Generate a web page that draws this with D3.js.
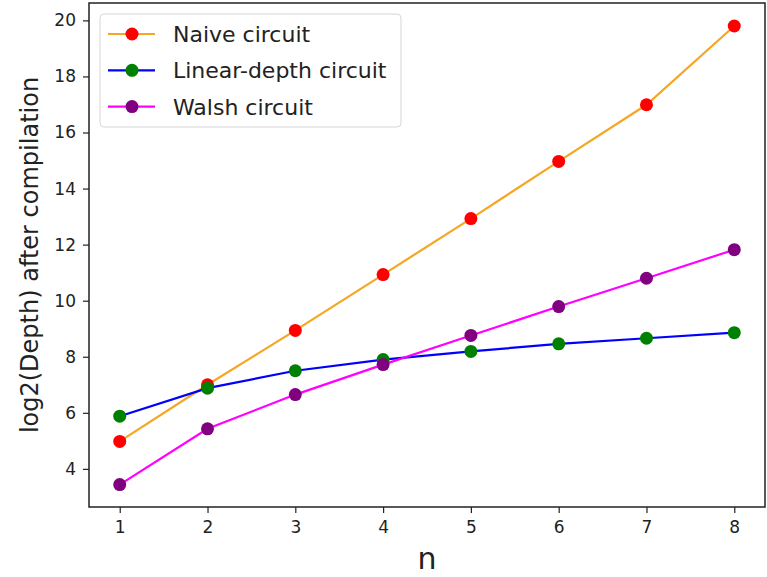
<!DOCTYPE html>
<html>
<head>
<meta charset="utf-8">
<script src="https://cdn.jsdelivr.net/npm/d3@7"></script>
<style>
  html, body { margin: 0; padding: 0; background: #fff; }
  svg { display: block; font-family: "DejaVu Sans", sans-serif; }
</style>
</head>
<body>
<svg id="chart" width="767" height="577"></svg>
<script>
// n values on the x axis
var nValues = [1, 2, 3, 4, 5, 6, 7, 8];

// log2(depth) after compilation
var naive = [4.98, 7.0, 8.94, 10.93, 12.93, 14.97, 16.99, 19.8];
var linearDepth = [5.88, 6.88, 7.5, 7.9, 8.19, 8.46, 8.66, 8.86];
var walsh = [3.44, 5.43, 6.65, 7.72, 8.76, 9.79, 10.8, 11.82];

var xTicks = [1, 2, 3, 4, 5, 6, 7, 8];
var yTicks = [4, 6, 8, 10, 12, 14, 16, 18, 20];

var seriesNames = ['Naive circuit', 'Linear-depth circuit', 'Walsh circuit'];
var lineColors = ['#f5a623', '#0000ff', '#ff00ff'];
var markerColors = ['#ff0000', '#008000', '#800080'];

var series = [naive, linearDepth, walsh].map(function(values, i) {
  return {
    name: seriesNames[i],
    line: lineColors[i],
    marker: markerColors[i],
    points: values.map(function(v, j) { return {x: nValues[j], y: v}; })
  };
});

var svg = d3.select('#chart');
// plot box (note: "top" is taken by window.top, so use a box object)
var box = {left: 89, right: 765, top: 3, bottom: 507};

var x = d3.scaleLinear().domain([0.65, 8.35]).range([box.left, box.right]);
var y = d3.scaleLinear().domain([2.64, 20.62]).range([box.bottom, box.top]);

// axes
var xAxis = svg.append('g')
  .attr('transform', 'translate(0,' + box.bottom + ')')
  .call(d3.axisBottom(x).tickValues(xTicks).tickFormat(d3.format('d')).tickSize(6).tickPadding(8));
var yAxis = svg.append('g')
  .attr('transform', 'translate(' + box.left + ',0)')
  .call(d3.axisLeft(y).tickValues(yTicks).tickFormat(d3.format('d')).tickSize(6).tickPadding(7));

[xAxis, yAxis].forEach(function(g) {
  g.select('.domain').remove();
  g.selectAll('.tick line').attr('stroke', '#222').attr('stroke-width', 1.2);
  g.selectAll('.tick text')
    .attr('fill', '#222')
    .style('font-size', '17px')
    .style('font-family', '"DejaVu Sans", sans-serif');
});

// frame
svg.append('rect')
  .attr('x', box.left).attr('y', box.top)
  .attr('width', box.right - box.left).attr('height', box.bottom - box.top)
  .attr('fill', 'none')
  .attr('stroke', '#222')
  .attr('stroke-width', 1.5);

// lines and markers
var line = d3.line()
  .x(function(d) { return x(d.x); })
  .y(function(d) { return y(d.y); });

series.forEach(function(s) {
  var g = svg.append('g');
  g.append('path')
    .datum(s.points)
    .attr('d', line)
    .attr('fill', 'none')
    .attr('stroke', s.line)
    .attr('stroke-width', 2.2);
  g.selectAll('circle')
    .data(s.points)
    .enter().append('circle')
    .attr('cx', function(d) { return x(d.x); })
    .attr('cy', function(d) { return y(d.y); })
    .attr('r', 6.5)
    .attr('fill', s.marker);
});

// legend
var legend = svg.append('g');
legend.append('rect')
  .attr('x', 100).attr('y', 14)
  .attr('width', 301).attr('height', 113)
  .attr('rx', 4)
  .attr('fill', '#fff')
  .attr('fill-opacity', 0.8)
  .attr('stroke', '#d6d6d6')
  .attr('stroke-width', 1);

series.forEach(function(s, i) {
  var cy = 34 + i * 36.3;
  legend.append('line')
    .attr('x1', 108).attr('x2', 155)
    .attr('y1', cy).attr('y2', cy)
    .attr('stroke', s.line)
    .attr('stroke-width', 2.2);
  legend.append('circle')
    .attr('cx', 132).attr('cy', cy)
    .attr('r', 6.5)
    .attr('fill', s.marker);
  legend.append('text')
    .attr('x', 173).attr('y', cy)
    .attr('dy', '0.36em')
    .attr('fill', '#222')
    .style('font-size', '22px')
    .text(s.name);
});

// axis labels
svg.append('text')
  .attr('x', (box.left + box.right) / 2)
  .attr('y', 569)
  .attr('text-anchor', 'middle')
  .attr('fill', '#222')
  .style('font-size', '30px')
  .text('n');

svg.append('text')
  .attr('transform', 'translate(38,' + ((box.top + box.bottom) / 2) + ') rotate(-90)')
  .attr('text-anchor', 'middle')
  .attr('fill', '#222')
  .style('font-size', '24px')
  .text('log2(Depth) after compilation');
</script>
</body>
</html>
